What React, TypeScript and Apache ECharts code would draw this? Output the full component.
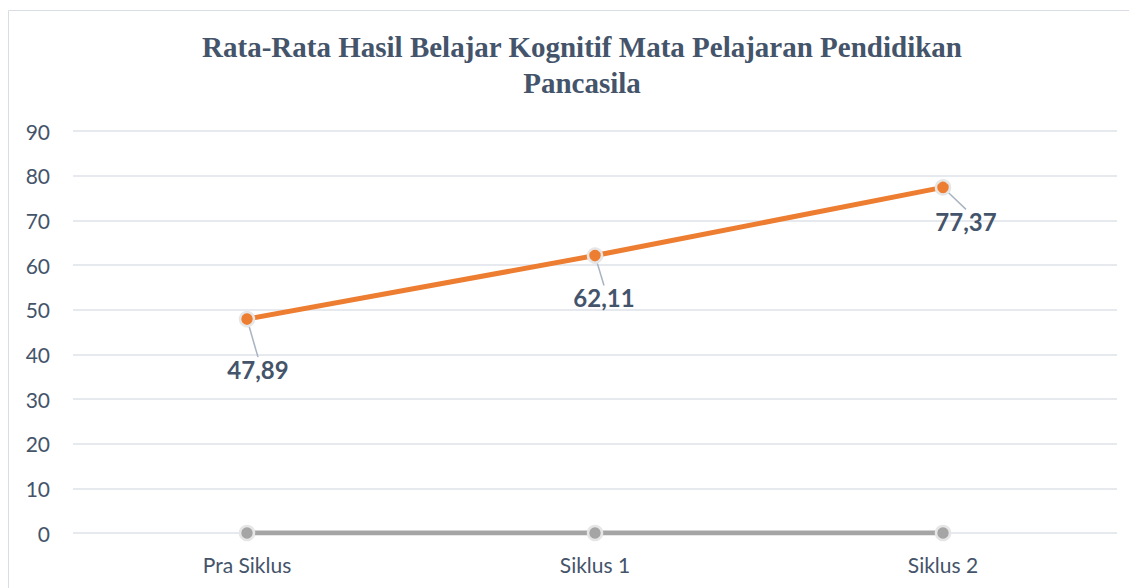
import React, { useEffect, useRef } from "react";
import * as echarts from "echarts";

const categories = ["Pra Siklus", "Siklus 1", "Siklus 2"];
const mainValues = [47.89, 62.11, 77.37];
const baseValues = [0, 0, 0];
const yTicks = [0, 10, 20, 30, 40, 50, 60, 70, 80, 90];
const titleText = "Rata-Rata Hasil Belajar Kognitif Mata Pelajaran Pendidikan\nPancasila";
const labelOffsets = [
  [11, 50],
  [9, 42],
  [23, 34],
];

export default function App() {
  const ref = useRef<HTMLDivElement>(null);
  useEffect(() => {
    if (!ref.current) return;
    const chart = echarts.init(ref.current, undefined, { renderer: "svg" });
    const textColor = "#44546A";
    chart.setOption({
      animation: false,
      backgroundColor: "#ffffff",
      graphic: [
        {
          type: "rect",
          shape: { x: 0.5, y: 2.5, width: 1300, height: 800 },
          style: { fill: "none", stroke: "#D9DEE6", lineWidth: 1 },
          silent: true,
        },
      ],
      title: {
        text: titleText,
        left: 569,
        top: 16,
        textAlign: "center",
        textStyle: {
          fontFamily: "Liberation Serif",
          fontWeight: "bold",
          fontSize: 29,
          lineHeight: 36,
          color: textColor,
        },
      },
      grid: { left: 65, right: 20, top: 123, bottom: 55, containLabel: false },
      xAxis: {
        type: "category",
        data: categories,
        boundaryGap: true,
        axisLine: { show: false },
        axisTick: { show: false },
        axisLabel: {
          margin: 21,
          fontFamily: "Lato",
          fontSize: 21,
          color: textColor,
        },
      },
      yAxis: {
        type: "value",
        min: yTicks[0],
        max: yTicks[yTicks.length - 1],
        interval: 10,
        axisLine: { show: false },
        axisTick: { show: false },
        splitLine: { lineStyle: { color: "#DEE2E8", width: 1.5 } },
        axisLabel: {
          margin: 23,
          fontFamily: "Lato",
          fontSize: 21,
          color: textColor,
        },
      },
      series: [
        {
          type: "line",
          data: baseValues,
          symbol: "circle",
          symbolSize: 14,
          lineStyle: { color: "#A5A5A5", width: 5 },
          itemStyle: { color: "#A5A5A5", borderColor: "#E6E6E6", borderWidth: 2.5 },
          z: 3,
        },
        {
          type: "line",
          data: mainValues,
          symbol: "circle",
          symbolSize: 14,
          lineStyle: { color: "#ED7D31", width: 5 },
          itemStyle: { color: "#ED7D31", borderColor: "#E6E6E6", borderWidth: 2.5 },
          z: 4,
          label: {
            show: true,
            position: "inside",
            formatter: (p: any) => String(p.value).replace(".", ","),
            fontFamily: "Lato",
            fontWeight: "bold",
            fontSize: 24,
            color: textColor,
          },
          labelLine: {
            show: true,
            lineStyle: { color: "#A9B4C2", width: 1.5 },
          },
          labelLayout: (params: any) => {
            const o = labelOffsets[params.dataIndex] || [0, 0];
            return { dx: o[0], dy: o[1] };
          },
        },
      ],
    });
    return () => chart.dispose();
  }, []);
  return <div ref={ref} style={{ width: 1129, height: 580 }} />;
}
